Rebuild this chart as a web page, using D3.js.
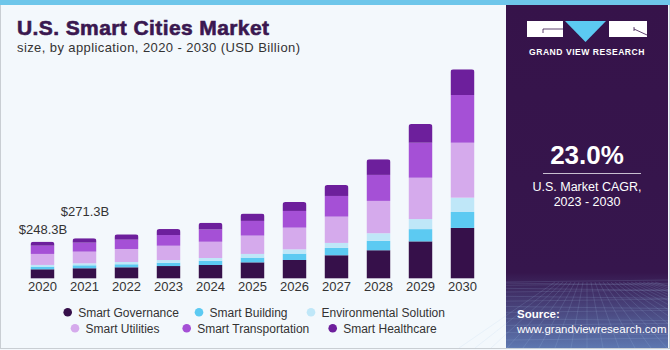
<!DOCTYPE html>
<html>
<head>
<meta charset="utf-8">
<script src="https://cdn.jsdelivr.net/npm/d3@7"></script>
<style>
  body { margin: 0; background: #fff; }
  svg { display: block; font-family: "Liberation Sans", Arial, sans-serif; }
</style>
</head>
<body>
<svg id="chart" width="670" height="350"></svg>
<script>
// years and segments (USD Billion)
const years = ["2020", "2021", "2022", "2023", "2024", "2025", "2026", "2027", "2028", "2029", "2030"];
const governance     = [61, 68, 74.5, 83, 90, 108, 124, 156, 190, 250, 341];
const building       = [18, 20, 20.5, 22.5, 29, 32, 43, 49.5, 63, 83, 108];
const environmental  = [11.5, 13.5, 15.5, 18, 18.5, 25, 29, 34, 52, 68, 97];
const utilities      = [74.5, 79, 88, 97, 110, 124, 147, 178, 219, 280, 372];
const transportation = [56, 61, 63, 72.5, 83, 99.5, 113, 140, 176, 237, 323];
const healthcare     = [27.3, 29.8, 36, 40.5, 45.5, 49.5, 61, 74.5, 106, 127, 174];

const seriesNames = ["Smart Governance", "Smart Building", "Environmental Solution",
                     "Smart Utilities", "Smart Transportation", "Smart Healthcare"];
const seriesColors = ["#36104a", "#5ccaf2", "#bfe7f8", "#d5aaec", "#a550d6", "#6d1f9c"];
const valueLabels = [{year: "2020", text: "$248.3B", lift: 8}, {year: "2021", text: "$271.3B", lift: 22}];

const svg = d3.select("#chart");

// background + frame
svg.append("rect").attr("x", 0).attr("y", 0).attr("width", 670).attr("height", 350).attr("fill", "#f3f8fc");
svg.append("rect").attr("x", 0.5).attr("y", 0.5).attr("width", 669).attr("height", 348)
  .attr("fill", "none").attr("stroke", "#c9ced3");
svg.append("rect").attr("x", 0).attr("y", 0).attr("width", 670).attr("height", 5).attr("fill", "#6ec6ea");

// right panel
const defs = svg.append("defs");
const grad = defs.append("linearGradient").attr("id", "panelGrad").attr("x1", 0).attr("y1", 0).attr("x2", 0).attr("y2", 1);
grad.append("stop").attr("offset", "0%").attr("stop-color", "#36134a");
grad.append("stop").attr("offset", "78%").attr("stop-color", "#36164d");
grad.append("stop").attr("offset", "100%").attr("stop-color", "#5d77b0");
svg.append("rect").attr("x", 506).attr("y", 5).attr("width", 162).attr("height", 343).attr("fill", "url(#panelGrad)");

// faint perspective grid at bottom of panel
const gridG = svg.append("g").attr("stroke", "#a9c6ea").attr("stroke-opacity", 0.25).attr("stroke-width", 0.6);
d3.range(0, 14).forEach(i => {
  const y = 282 + Math.pow(i / 13, 1.6) * 66;
  gridG.append("line").attr("x1", 506).attr("x2", 668).attr("y1", y).attr("y2", y + (i % 2 ? 2 : -2));
});
d3.range(-8, 18).forEach(i => {
  gridG.append("line").attr("x1", 587 + i * 4).attr("y1", 282).attr("x2", 587 + i * 16).attr("y2", 348);
});

// logo
const logo = svg.append("g");
logo.append("rect").attr("x", 527).attr("y", 21).attr("width", 36).attr("height", 16).attr("fill", "#fff");
logo.append("path").attr("d", "M543,33 L543,29 L563,29").attr("fill", "none").attr("stroke", "#36134a").attr("stroke-width", 0.8);
logo.append("path").attr("d", "M565,21 L606,21 L585.5,42 Z").attr("fill", "#5ccaf2");
logo.append("rect").attr("x", 609).attr("y", 21).attr("width", 38).attr("height", 16).attr("fill", "#fff");
logo.append("path").attr("d", "M634,29 L647,35").attr("fill", "none").attr("stroke", "#36134a").attr("stroke-width", 0.8);
logo.append("path").attr("d", "M634,27 L634,31").attr("fill", "none").attr("stroke", "#36134a").attr("stroke-width", 0.8);
logo.append("text").attr("x", 587).attr("y", 55).attr("text-anchor", "middle")
  .attr("fill", "#fff").attr("font-size", 8.6).attr("font-weight", "bold").attr("letter-spacing", 0.5)
  .text("GRAND VIEW RESEARCH");

// CAGR
svg.append("text").attr("x", 587).attr("y", 164).attr("text-anchor", "middle")
  .attr("fill", "#fff").attr("font-size", 26).attr("font-weight", "bold").text("23.0%");
svg.append("line").attr("x1", 543).attr("x2", 641).attr("y1", 173.5).attr("y2", 173.5)
  .attr("stroke", "#c8bfd0").attr("stroke-width", 1);
svg.append("text").attr("x", 587).attr("y", 191).attr("text-anchor", "middle")
  .attr("fill", "#fff").attr("font-size", 12.5).text("U.S. Market CAGR,");
svg.append("text").attr("x", 587).attr("y", 206).attr("text-anchor", "middle")
  .attr("fill", "#fff").attr("font-size", 12.5).text("2023 - 2030");

// source
svg.append("text").attr("x", 517).attr("y", 318).attr("fill", "#fff")
  .attr("font-size", 11.5).attr("font-weight", "bold").text("Source:");
svg.append("text").attr("x", 517).attr("y", 333).attr("fill", "#fff")
  .attr("font-size", 11.5).text("www.grandviewresearch.com");

// titles
svg.append("text").attr("x", 17).attr("y", 35).attr("fill", "#3a1850")
  .attr("font-size", 21).attr("font-weight", "bold").attr("textLength", 252)
  .attr("stroke", "#3a1850").attr("stroke-width", 0.6)
  .text("U.S. Smart Cities Market");
svg.append("text").attr("x", 17).attr("y", 51.5).attr("fill", "#333")
  .attr("font-size", 13).attr("textLength", 283)
  .text("size, by application, 2020 - 2030 (USD Billion)");

// data table for stacking
const table = years.map((y, i) => ({
  year: y,
  "Smart Governance": governance[i],
  "Smart Building": building[i],
  "Environmental Solution": environmental[i],
  "Smart Utilities": utilities[i],
  "Smart Transportation": transportation[i],
  "Smart Healthcare": healthcare[i]
}));
const stacked = d3.stack().keys(seriesNames)(table);
const totals = table.map(d => d3.sum(seriesNames, k => d[k]));

const x = d3.scaleBand().domain(years).range([21.5, 483.5]).paddingInner(0.43).paddingOuter(0.215);
const y = d3.scaleLinear().domain([0, d3.max(totals)]).range([278.3, 69.3]);
const color = d3.scaleOrdinal().domain(seriesNames).range(seriesColors);

// rounded clip for each bar
years.forEach((yr, i) => {
  defs.append("clipPath").attr("id", "clip" + yr)
    .append("rect").attr("x", x(yr)).attr("y", y(totals[i]))
    .attr("width", x.bandwidth()).attr("height", y(0) - y(totals[i]) + 5).attr("rx", 3);
});

const bars = svg.append("g");
stacked.forEach(s => {
  bars.append("g").attr("fill", color(s.key))
    .selectAll("rect").data(s).join("rect")
    .attr("clip-path", d => "url(#clip" + d.data.year + ")")
    .attr("x", d => x(d.data.year))
    .attr("y", d => y(d[1]))
    .attr("width", x.bandwidth())
    .attr("height", d => y(d[0]) - y(d[1]));
});

// value labels
valueLabels.forEach(l => {
  const i = years.indexOf(l.year);
  svg.append("text").attr("x", x(l.year) + x.bandwidth() / 2 + 0.5).attr("y", y(totals[i]) - l.lift)
    .attr("text-anchor", "middle").attr("fill", "#333").attr("font-size", 13).text(l.text);
});

// x axis
const xAxis = svg.append("g").attr("transform", "translate(0,279)")
  .call(d3.axisBottom(x).tickSize(0).tickPadding(3));
xAxis.select(".domain").remove();
xAxis.selectAll("text").attr("fill", "#333").attr("font-size", 13)
  .attr("font-family", "Liberation Sans, Arial, sans-serif");

// legend
const legendRows = [
  [{k: 0, cx: 67.7}, {k: 1, cx: 199}, {k: 2, cx: 311}],
  [{k: 3, cx: 75}, {k: 4, cx: 186.7}, {k: 5, cx: 332.7}]
];
const legend = svg.append("g");
legendRows.forEach((row, r) => {
  const cy = 312.3 + r * 16;
  row.forEach(item => {
    legend.append("circle").attr("cx", item.cx).attr("cy", cy).attr("r", 4.3).attr("fill", seriesColors[item.k]);
    legend.append("text").attr("x", item.cx + 10.5).attr("y", cy + 4.3)
      .attr("fill", "#333").attr("font-size", 12).text(seriesNames[item.k]);
  });
});
</script>
</body>
</html>
